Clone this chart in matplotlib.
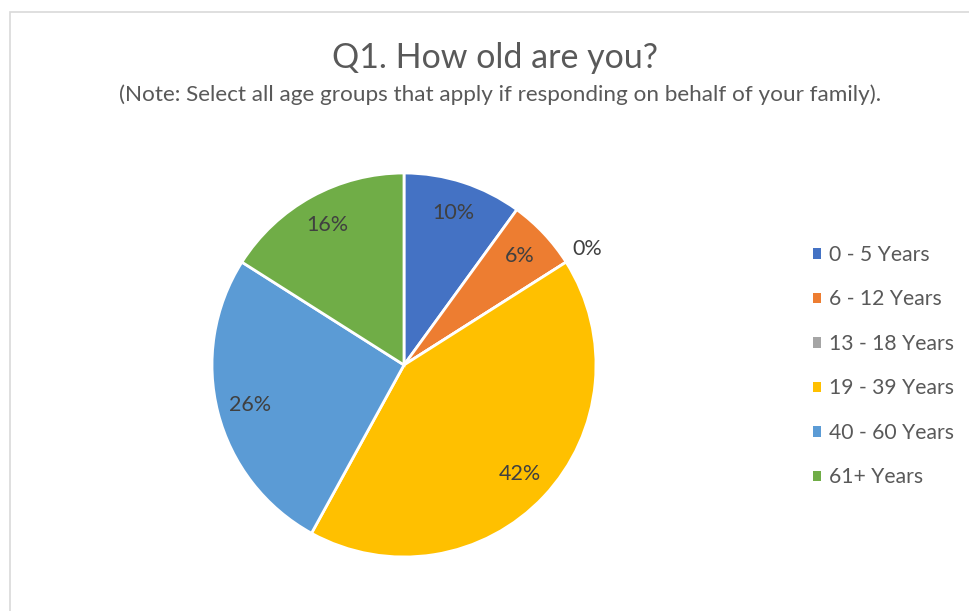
import numpy as np
import matplotlib.pyplot as plt
from matplotlib.patches import Rectangle

# data
categories = ['0 - 5 Years', '6 - 12 Years', '13 - 18 Years',
              '19 - 39 Years', '40 - 60 Years', '61+ Years']
shares = [10, 6, 0, 42, 26, 16]
colors = ['#4472C4', '#ED7D31', '#A5A5A5', '#FFC000', '#5B9BD5', '#70AD47']

plt.rcParams['font.family'] = ['Lato', 'DejaVu Sans']

W, H = 969, 611
fig = plt.figure(figsize=(W / 100, H / 100), dpi=100)
ax = fig.add_axes([0, 0, 1, 1])

# chart border
ax.add_patch(Rectangle((10, -5), W, H - 12 + 5, fill=False,
                       edgecolor='#D9D9D9', linewidth=1.2))

wedges, texts, autotexts = ax.pie(
    shares, colors=colors, startangle=90, counterclock=False,
    center=(404, H - 365), radius=192, frame=True,
    autopct=lambda p: f'{p:.0f}%', pctdistance=0.83,
    wedgeprops=dict(edgecolor='white', linewidth=2),
    textprops=dict(color='#404040', fontsize=15.5))
ax.set_xlim(0, W)
ax.set_ylim(0, H)
ax.set_aspect('equal')
ax.axis('off')

# the zero slice label sits outside the pie
w = wedges[2]
mid = np.deg2rad((w.theta1 + w.theta2) / 2)
autotexts[2].set_position((404 + 1.13 * 192 * np.cos(mid),
                           H - 365 + 1.13 * 192 * np.sin(mid)))

fig.text(495 / W, 1 - 58 / H, 'Q1. How old are you?', ha='center', va='center',
         fontsize=24.5, color='#595959')
fig.text(500 / W, 1 - 95 / H,
         '(Note: Select all age groups that apply if responding on behalf of your family).',
         ha='center', va='center', fontsize=16.2, color='#595959')

leg = ax.legend(wedges, categories, loc='upper left',
                bbox_to_anchor=(794 / W, 1 - 226 / H), frameon=False,
                fontsize=15.2, handlelength=0.4, handleheight=0.4,
                handletextpad=0.38, labelspacing=1.16, labelcolor='#595959')
for h in leg.legend_handles:
    h.set_edgecolor('none')

fig.savefig('out.png', dpi=100)
